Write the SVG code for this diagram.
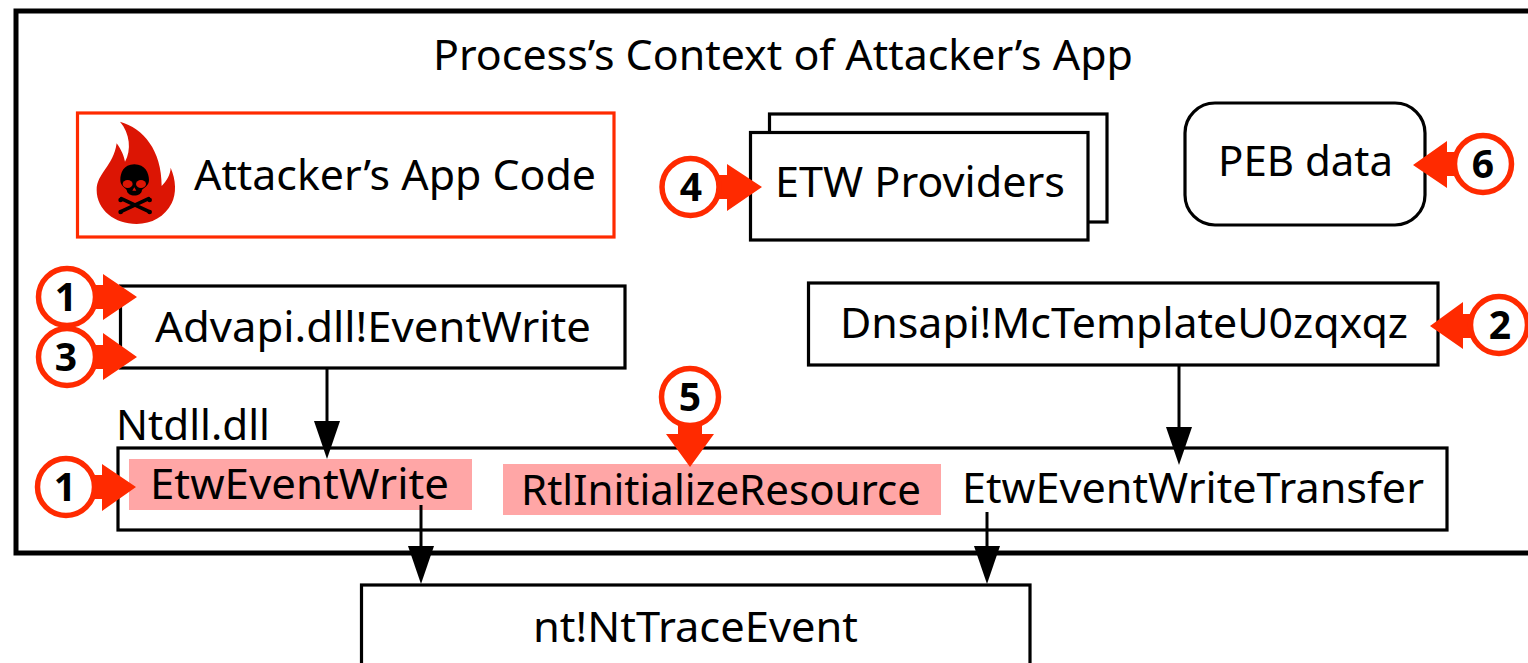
<svg xmlns="http://www.w3.org/2000/svg" width="1528" height="663" viewBox="0 0 1528 663">
<style>
.box{fill:#fff;stroke:#000;stroke-width:3.2}
.t{font-family:"Noto Sans","Open Sans",Arial,sans-serif;font-size:42px;fill:#000;text-anchor:start}
.n{font-family:"Noto Sans","Open Sans",Arial,sans-serif;font-size:39px;font-weight:700;fill:#000;text-anchor:middle}
.ring{fill:#fff;stroke:#ff2a00;stroke-width:5.5}
.pt{fill:#ff2a00}
.hl{fill:#ffa6a6}
.ln{stroke:#000;stroke-width:3;fill:none}
.hd{fill:#000}
</style>
<rect x="16" y="11" width="1530" height="542" fill="#fff" stroke="#000" stroke-width="5"/>
<text class="t" x="433" y="70" textLength="700" lengthAdjust="spacingAndGlyphs">Process’s Context of Attacker’s App</text>
<g id="attacker-app">
<rect x="77.5" y="113" width="536.5" height="124" fill="#fff" stroke="#ff2a00" stroke-width="3.2"/>
<g transform="translate(20 100) scale(.3333)">
<path fill="#dc1504" d="M300,65C370,85 425,150 425,258C440,243 452,222 452,203C468,240 470,280 455,310C435,350 395,372 350,372C285,372 230,330 230,270C230,220 280,200 290,130C305,150 312,170 315,185C335,150 330,100 300,65Z"/>
<path fill="#000" d="M343,193C310,193 301,220 301,240C301,258 315,262 320,270C322,292 365,292 366,270C372,262 387,258 387,240C387,220 376,193 343,193Z"/>
<ellipse cx="323" cy="252" rx="15" ry="12" fill="#dc1504"/><ellipse cx="363" cy="252" rx="15" ry="12" fill="#dc1504"/>
<path d="M337,272L343,262L349,272Z" fill="#dc1504"/>
<path d="M304,296L386,334M386,296L304,334" stroke="#000" stroke-width="11" stroke-linecap="round"/>
<circle cx="302" cy="300" r="7"/><circle cx="389" cy="300" r="7"/><circle cx="302" cy="336" r="7"/><circle cx="389" cy="336" r="7"/>
</g>
<text class="t" x="194" y="190" textLength="402" lengthAdjust="spacingAndGlyphs">Attacker’s App Code</text>
</g>
<g id="etw-providers">
<rect class="box" x="769.5" y="114" width="337.5" height="108"/>
<rect class="box" x="750.5" y="132.5" width="337.5" height="107.5"/>
<text class="t" x="775" y="197" textLength="290" lengthAdjust="spacingAndGlyphs">ETW Providers</text>
</g>
<g id="peb-data">
<rect class="box" x="1185" y="103" width="240" height="122" rx="30"/>
<text class="t" x="1218" y="176" textLength="175" lengthAdjust="spacingAndGlyphs">PEB data</text>
</g>
<g id="advapi">
<rect class="box" x="120.5" y="286" width="504.5" height="82"/>
<text class="t" x="155" y="342" textLength="436" lengthAdjust="spacingAndGlyphs">Advapi.dll!EventWrite</text>
</g>
<g id="dnsapi">
<rect class="box" x="808.5" y="283" width="629.5" height="82"/>
<text class="t" x="840" y="338" textLength="568" lengthAdjust="spacingAndGlyphs">Dnsapi!McTemplateU0zqxqz</text>
</g>
<g id="ntdll">
<text class="t" x="116" y="440" textLength="154" lengthAdjust="spacingAndGlyphs">Ntdll.dll</text>
<rect class="box" x="118" y="448" width="1329" height="82"/>
<rect class="hl" x="129" y="459" width="343" height="51"/>
<rect class="hl" x="503" y="464" width="438" height="51"/>
<text class="t" x="150" y="499" textLength="299" lengthAdjust="spacingAndGlyphs">EtwEventWrite</text>
<text class="t" x="521" y="505" textLength="400" lengthAdjust="spacingAndGlyphs">RtlInitializeResource</text>
<text class="t" x="962" y="503" textLength="462" lengthAdjust="spacingAndGlyphs">EtwEventWriteTransfer</text>
</g>
<g id="nt-trace">
<rect class="box" x="361.5" y="585" width="668.5" height="90"/>
<text class="t" x="533" y="642" textLength="325" lengthAdjust="spacingAndGlyphs">nt!NtTraceEvent</text>
</g>
<g id="connectors">
<path class="ln" d="M327 368V425"/><path class="hd" d="M314 421H340L327 459Z"/>
<path class="ln" d="M1179 365V430"/><path class="hd" d="M1166 427H1192L1179 465Z"/>
<path class="ln" d="M421 505V550"/><path class="hd" d="M408 546H434L421 584Z"/>
<path class="ln" d="M987 512V550"/><path class="hd" d="M974 546H1000L987 584Z"/>
</g>
<g id="badge-1a"><path class="pt" d="M85 285H103V274L137 297L103 320V309H85Z"/><circle class="ring" cx="67" cy="297" r="28.5"/><text class="n" x="66" y="311">1</text></g>
<g id="badge-3"><path class="pt" d="M85 345H103V333L137 357L103 380V369H85Z"/><circle class="ring" cx="67" cy="357" r="28.5"/><text class="n" x="66" y="371">3</text></g>
<g id="badge-1b"><path class="pt" d="M85 475H102V464L136 487L102 511V499H85Z"/><circle class="ring" cx="66" cy="487" r="28.5"/><text class="n" x="65" y="501">1</text></g>
<g id="badge-4"><path class="pt" d="M710 175H727V164L762 187L727 211V199H710Z"/><circle class="ring" cx="690.5" cy="187" r="28.5"/><text class="n" x="691" y="201">4</text></g>
<g id="badge-5"><path class="pt" d="M678 415V434H666L690 467L714 434H702V415Z"/><circle class="ring" cx="690" cy="397" r="28.5"/><text class="n" x="690" y="411">5</text></g>
<g id="badge-6"><path class="pt" d="M1465 152H1447V141L1413 165L1447 188V176H1465Z"/><circle class="ring" cx="1483" cy="164" r="28.5"/><text class="n" x="1483" y="178">6</text></g>
<g id="badge-2"><path class="pt" d="M1480 314H1463V302L1430 326L1463 349V338H1480Z"/><circle class="ring" cx="1499" cy="325" r="28.5"/><text class="n" x="1500" y="339">2</text></g>
</svg>
